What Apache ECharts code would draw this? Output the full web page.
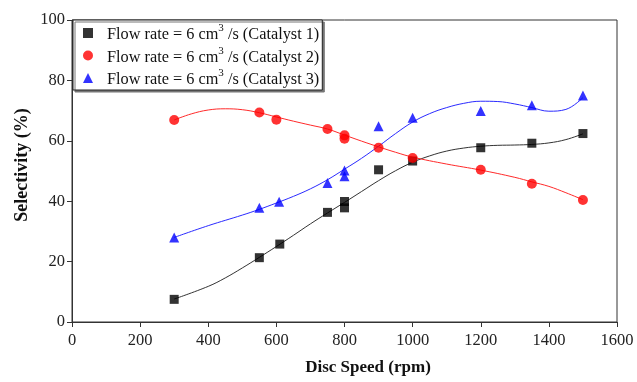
<!DOCTYPE html>
<html>
<head>
<meta charset="utf-8">
<script src="https://cdn.jsdelivr.net/npm/echarts@6/dist/echarts.min.js"></script>
<style>html,body{margin:0;padding:0;background:#fff}#c{width:637px;height:382px}</style>
</head>
<body>
<div id="c"></div>
<script>
// ---- measured points ----
const cat1X = [300, 550, 610, 750, 800, 800, 900, 1000, 1200, 1350, 1500];
const cat1Y = [7.5, 21.3, 25.8, 36.3, 37.8, 39.9, 50.4, 53.3, 57.7, 59.2, 62.4];
const cat2X = [300, 550, 600, 750, 800, 800, 900, 1000, 1200, 1350, 1500];
const cat2Y = [66.9, 69.4, 67.0, 63.9, 60.7, 61.8, 57.7, 54.3, 50.4, 45.8, 40.4];
const cat3X = [300, 550, 608, 750, 800, 800, 900, 1000, 1200, 1350, 1500];
const cat3Y = [28.0, 37.8, 39.8, 46.0, 48.3, 50.2, 64.8, 67.6, 69.9, 71.8, 75.0];

// ---- fitted trend curves ----
const fit1X = [300, 400, 450, 500, 550, 600, 650, 700, 750, 800, 850, 900, 950, 1000, 1050, 1100, 1150, 1200, 1250, 1300, 1350, 1400, 1450, 1500];
const fit1Y = [7.6, 11.8, 14.6, 17.9, 21.4, 25.0, 28.7, 32.5, 36.1, 39.6, 43.2, 46.8, 50.1, 52.9, 55.0, 56.6, 57.6, 58.2, 58.5, 58.6, 58.8, 59.3, 60.4, 62.3];
const fit2X = [300, 350, 400, 450, 500, 550, 600, 650, 700, 750, 800, 850, 900, 950, 1000, 1100, 1200, 1300, 1350, 1400, 1450, 1500];
const fit2Y = [66.9, 68.9, 70.2, 70.6, 70.3, 69.3, 67.9, 66.5, 65.2, 63.9, 61.9, 59.9, 58.0, 56.2, 54.6, 52.3, 50.3, 47.9, 46.4, 44.9, 42.8, 40.5];
const fit3X = [300, 400, 500, 550, 600, 650, 700, 750, 800, 850, 900, 950, 1000, 1050, 1100, 1150, 1200, 1250, 1300, 1350, 1400, 1450, 1500];
const fit3Y = [28.0, 31.9, 35.4, 37.3, 39.4, 41.6, 44.1, 47.1, 50.6, 54.2, 58.2, 62.4, 66.2, 69.0, 71.0, 72.4, 73.1, 73.0, 72.2, 71.0, 69.8, 70.4, 74.3];

const seriesNames = ['Catalyst 1', 'Catalyst 2', 'Catalyst 3'];
const xTicks = [0, 200, 400, 600, 800, 1000, 1200, 1400, 1600];
const yTicks = [0, 20, 40, 60, 80, 100];
const xTitle = 'Disc Speed (rpm)';
const yTitle = 'Selectivity (%)';

const pairs = (xs, ys) => xs.map((x, i) => [x, ys[i]]);
const SERIF = '"Liberation Serif", "Times New Roman", serif';

const chart = echarts.init(document.getElementById('c'), null, {renderer: 'canvas'});
chart.setOption({
  animation: false,
  backgroundColor: '#fff',
  grid: {left: 72, right: 20, top: 20, bottom: 60, show: true, borderColor: '#333', borderWidth: 1, backgroundColor: 'transparent'},
  xAxis: {
    type: 'value', min: xTicks[0], max: xTicks[xTicks.length - 1], interval: 200,
    axisLine: {lineStyle: {color: '#333', width: 1}},
    axisTick: {show: true, inside: false, length: 5, lineStyle: {color: '#333'}},
    axisLabel: {fontFamily: SERIF, fontSize: 16.5, color: '#222', margin: 10, formatter: v => String(v)},
    splitLine: {show: false}
  },
  yAxis: {
    type: 'value', min: yTicks[0], max: yTicks[yTicks.length - 1], interval: 20,
    axisLine: {show: true, lineStyle: {color: '#333', width: 1}},
    axisTick: {show: true, inside: false, length: 5, lineStyle: {color: '#333'}},
    axisLabel: {fontFamily: SERIF, fontSize: 16.5, color: '#222', margin: 7, formatter: v => String(v)},
    splitLine: {show: false}
  },
  graphic: [
    {type: 'text', x: 368, y: 368, style: {text: xTitle, font: 'bold 17px ' + SERIF, fill: '#111', textAlign: 'center', textVerticalAlign: 'middle'}},
    {type: 'text', x: 22, y: 165, rotation: Math.PI / 2, style: {text: yTitle, font: 'bold 18px ' + SERIF, fill: '#111', textAlign: 'center', textVerticalAlign: 'middle'}}
  ],
  legend: {
    orient: 'vertical', left: 73, top: 20,
    padding: [3, 3, 2, 10],
    itemWidth: 10, itemHeight: 10, itemGap: 2.5,
    symbolKeepAspect: true,
    backgroundColor: '#fff', borderColor: '#222', borderWidth: 1,
    shadowColor: '#777', shadowOffsetX: 2, shadowOffsetY: 2, shadowBlur: 0,
    data: seriesNames,
    formatter: n => '{m|Flow rate = 6 cm}{sup|3}{m| /s (' + n + ')}',
    textStyle: {
      fontFamily: SERIF, fontSize: 16.3, color: '#111', lineHeight: 20,
      padding: [0, 0, 0, 9],
      rich: {
        m: {fontFamily: SERIF, fontSize: 16.3, lineHeight: 20, verticalAlign: 'bottom', color: '#111'},
        sup: {fontFamily: SERIF, fontSize: 11, lineHeight: 11, verticalAlign: 'top', color: '#111'}
      }
    }
  },
  series: [
    {type: 'line', name: 'fit1', data: pairs(fit1X, fit1Y), smooth: 0.4, showSymbol: false, lineStyle: {color: '#333', width: 1}, z: 1, silent: true},
    {type: 'line', name: 'fit2', data: pairs(fit2X, fit2Y), smooth: 0.4, showSymbol: false, lineStyle: {color: '#ff2a2a', width: 1}, z: 1, silent: true},
    {type: 'line', name: 'fit3', data: pairs(fit3X, fit3Y), smooth: 0.4, showSymbol: false, lineStyle: {color: '#2a2aff', width: 1}, z: 1, silent: true},
    {type: 'scatter', name: seriesNames[0], data: pairs(cat1X, cat1Y), symbol: 'rect', symbolSize: 9, itemStyle: {color: '#000'}, z: 3},
    {type: 'scatter', name: seriesNames[1], data: pairs(cat2X, cat2Y), symbol: 'circle', symbolSize: 10, itemStyle: {color: '#ff0000'}, z: 3},
    {type: 'scatter', name: seriesNames[2], data: pairs(cat3X, cat3Y), symbol: 'triangle', symbolSize: 10, itemStyle: {color: '#0000ff'}, z: 3}
  ]
});
</script>
</body>
</html>
